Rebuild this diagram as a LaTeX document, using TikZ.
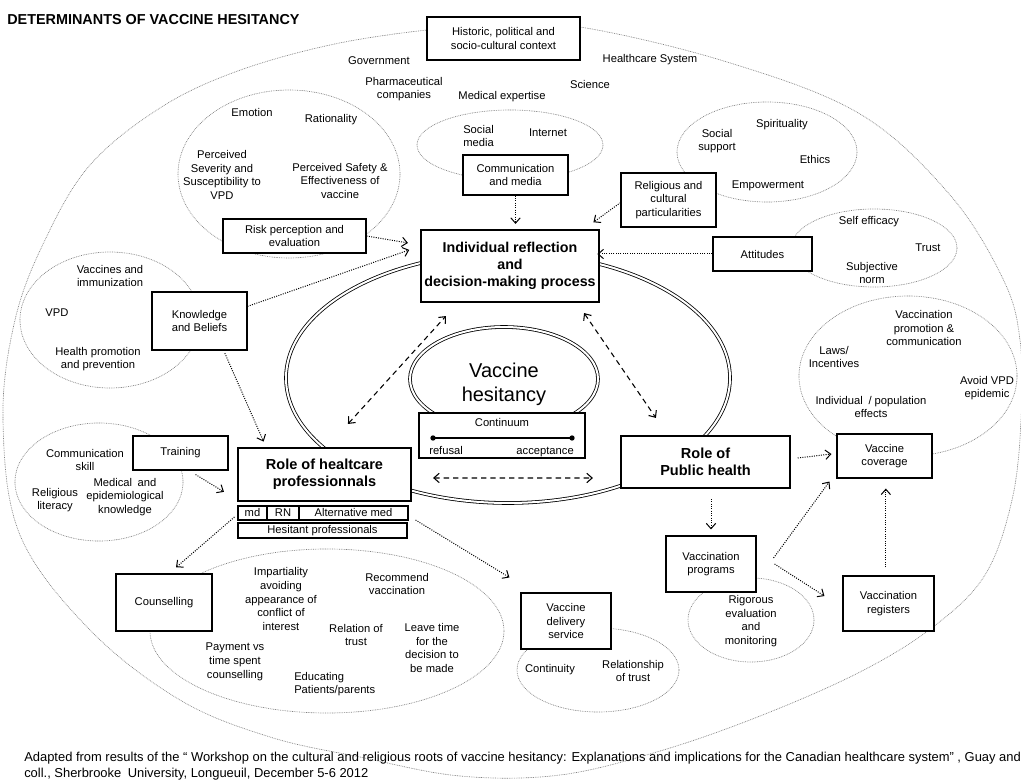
\documentclass[tikz,border=0pt]{standalone}
\usepackage{fontspec}
\setmainfont{Liberation Sans}
\usetikzlibrary{arrows.meta}
\begin{document}
\begin{tikzpicture}[x=0.75pt,y=-0.75pt,
  lab/.style={font=\fontsize{8.4}{10.3}\selectfont, align=center, inner sep=0pt},
  tbox/.style={draw, fill=white, line width=0.8pt, align=center, inner sep=0pt, font=\fontsize{8.4}{10.3}\selectfont},
  kbox/.style={draw, fill=white, line width=1.6pt, align=center, inner sep=0pt, font=\bfseries\fontsize{10.7}{13}\selectfont},
  rowbox/.style={tbox, text height=6.2pt, text depth=1.6pt},
  sz/.style 2 args={minimum width=#1*0.75pt, minimum height=#2*0.75pt},
  ell/.style={draw=gray, line width=0.5pt, dash pattern=on 0.6pt off 0.7pt},
  dotarr/.style={densely dotted, line width=0.75pt, -{Straight Barb[length=4pt,width=7pt]}},
  dasharr/.style={dash pattern=on 4pt off 3pt, line width=0.8pt, {Straight Barb[length=4pt,width=7pt]}-{Straight Barb[length=4pt,width=7pt]}},
  dbl/.style={double, double distance=1.5pt, line width=0.6pt}
]
\useasboundingbox (0,0) rectangle (1021,780);
\fill[white] (0,0) rectangle (1021,780);

% outer context curve
\draw[ell] plot[smooth cycle, tension=0.6] coordinates {
 (500,26) (580,27) (727,62) (860,114) (950,195) (1003,279) (1020,340) (1021,420)
 (1012,500) (985,575) (933,627) (860,672) (760,716) (660,751) (560,775) (460,776)
 (360,757) (270,737) (180,700) (90,630) (20,535) (3,420) (15,320) (45,240)
 (90,165) (160,108) (235,72) (330,45) (427,30)};

% dotted ellipses
\draw[ell] (289,174) ellipse [x radius=111, y radius=84];
\draw[ell] (510,145) ellipse [x radius=93, y radius=35];
\draw[ell] (767,152) ellipse [x radius=90, y radius=50];
\draw[ell] (874,248) ellipse [x radius=83, y radius=39];
\draw[ell] (110,320) ellipse [x radius=90, y radius=68];
\draw[ell] (99,482) ellipse [x radius=84, y radius=59];
\draw[ell] (327,631) ellipse [x radius=177, y radius=82];
\draw[ell] (598,670) ellipse [x radius=81, y radius=42];
\draw[ell] (751,620) ellipse [x radius=63, y radius=42];
\draw[ell] (908,376) ellipse [x radius=109, y radius=80];

% central double ellipses
\draw[dbl] (508,378) ellipse [x radius=222, y radius=125];
\draw[dbl] (504,379) ellipse [x radius=94, y radius=52];

% title
\node[anchor=base west, inner sep=0pt, font=\bfseries\fontsize{10.8}{13}\selectfont] (title) at (7,25) {DETERMINANTS OF VACCINE HESITANCY};

% boxes
\node[tbox, sz={153}{43}] (hist) at (503.5,38.5) {Historic, political and\\socio-cultural context};
\node[tbox, sz={143}{34}] (risk) at (294.5,236) {Risk perception and\\evaluation};
\node[tbox, sz={105}{40}] (comm) at (515.5,175) {Communication\\and media};
\node[tbox, sz={95}{54}] (rel) at (668.5,200) {Religious and\\cultural\\particularities};
\node[tbox, sz={99}{34}] (att) at (762.5,254) {Attitudes};
\node[kbox, sz={178}{72}] (ind) at (510,266) {Individual reflection\\and\\decision-making process};
\node[tbox, sz={95}{58}] (know) at (199.5,321) {Knowledge\\and Beliefs};
\node[tbox, sz={95}{34}] (train) at (180.5,453) {Training};
\node[kbox, sz={173}{53}, font=\bfseries\fontsize{10.9}{12.8}\selectfont] (hcp) at (324.5,474.5) {Role of healtcare\\professionnals};
\node[rowbox, sz={29}{14}] (md) at (252.5,513) {md};
\node[rowbox, sz={32}{14}] (rn) at (283,513) {RN};
\node[rowbox, sz={109}{14}] (alt) at (353.5,513) {Alternative med};
\node[rowbox, sz={169}{15}] (hes) at (322.5,530.5) {Hesitant professionals};
\node[tbox, sz={96}{57}] (couns) at (164,602.5) {Counselling};
\node[tbox, sz={90}{56}] (deliv) at (566,621) {Vaccine\\delivery\\service};
\node[kbox, sz={169}{52}, font=\bfseries\fontsize{10.9}{12.8}\selectfont] (ph) at (705.5,462) {Role of\\Public health};
\node[tbox, sz={90}{56}] (prog) at (711,564) {Vaccination\\programs};
\node[tbox, sz={91}{55}] (reg) at (888.5,603.5) {Vaccination\\registers};
\node[tbox, sz={95}{44}] (cov) at (884.5,456) {Vaccine\\coverage};
\node[tbox, sz={166}{45}] (cont) at (502,435.5) {};

% continuum content
\node[lab] (contl) at (502,422) {Continuum};
\coordinate (cl) at (433,438);
\coordinate (cr) at (572,438);
\draw[line width=1pt] (cl) -- (cr);
\fill (cl) circle[radius=2pt];
\fill (cr) circle[radius=2pt];
\node[lab, anchor=base west] (refl) at (429,455) {refusal};
\node[lab, anchor=base east] (accl) at (574,455) {acceptance};

% hesitancy
\node[lab, font=\fontsize{15}{18}\selectfont] (vh) at (504,384) {Vaccine\\hesitancy};

% context labels
\node[lab] (gov) at (379,61) {Government};
\node[lab] (pharm) at (404,89) {Pharmaceutical\\companies};
\node[lab] (medx) at (502,97) {Medical expertise};
\node[lab] (sci) at (590,85) {Science};
\node[lab] (hcs) at (650,60) {Healthcare System};

% risk ellipse
\node[lab] (emo) at (252,113) {Emotion};
\node[lab] (rat) at (331,120) {Rationality};
\node[lab] (sev) at (222,175) {Perceived\\Severity and\\Susceptibility to\\VPD};
\node[lab] (saf) at (340,181) {Perceived Safety \&\\Effectiveness of\\vaccine};

% communication
\node[lab, align=left, anchor=west] (soc) at (463,136) {Social\\media};
\node[lab] (inet) at (548,133) {Internet};

% religious
\node[lab] (ssup) at (717,141) {Social\\support};
\node[lab] (spir) at (782,125) {Spirituality};
\node[lab] (eth) at (815,160) {Ethics};
\node[lab] (emp) at (768,186) {Empowerment};

% attitudes
\node[lab] (seff) at (869,222) {Self efficacy};
\node[lab] (trust) at (928,248) {Trust};
\node[lab] (subj) at (872,273) {Subjective\\norm};

% knowledge
\node[lab] (vacimm) at (110,276) {Vaccines and\\immunization};
\node[lab] (vpd) at (57,313) {VPD};
\node[lab] (hpp) at (98,359) {Health promotion\\and prevention};

% training
\node[lab] (cskill) at (85,460) {Communication\\skill};
\node[lab] (rlit) at (55,500) {Religious\\literacy};
\node[lab] (medk) at (125,497) {Medical\enspace and\\epidemiological\\knowledge};

% counselling
\node[lab] (imp) at (281,599) {Impartiality\\avoiding\\appearance of\\conflict of\\interest};
\node[lab] (recv) at (397,584) {Recommend\\vaccination};
\node[lab] (relt) at (356,635) {Relation of\\trust};
\node[lab] (leave) at (432,648) {Leave time\\for the\\decision to\\be made};
\node[lab] (pay) at (235,662) {Payment vs\\time spent\\counselling};
\node[lab, align=left, anchor=west] (edu) at (294,684) {Educating\\Patients/parents};

% delivery
\node[lab] (cont2) at (550,670) {Continuity};
\node[lab] (rtrust) at (633,671) {Relationship\\of trust};

% programs
\node[lab] (rig) at (751,621) {Rigorous\\evaluation\\and\\monitoring};

% coverage
\node[lab] (vpc) at (924,328) {Vaccination\\promotion \&\\communication};
\node[lab] (laws) at (834,357) {Laws/\\Incentives};
\node[lab] (avoid) at (987,388) {Avoid VPD\\epidemic};
\node[lab] (ipe) at (871,407) {Individual\enspace/ population\\effects};

% dotted arrows
\draw[dotarr, shorten >=3.75pt] (comm.south) -- (comm.south |- ind.north);
\draw[dotarr] ([yshift=-2pt]rel.west) -- ([xshift=-5pt,yshift=5pt]ind.north east);
\draw[dotarr, shorten >=-2pt] (att.west) -- (att.west -| ind.east);
\draw[dotarr] (risk.east) -- ([xshift=-9pt,yshift=-10.5pt]ind.north west);
\draw[dotarr] ([yshift=11pt]know.east) -- ([xshift=-8pt,yshift=-15.75pt]ind.north west);
\draw[dotarr] ([xshift=19pt,yshift=-2pt]know.south) -- ([xshift=20pt,yshift=4pt]hcp.north west);
\draw[dotarr] ([xshift=-24.75pt,yshift=-3pt]train.south east) -- ([xshift=-9.75pt,yshift=-13pt]hcp.west);
\draw[dotarr] ([xshift=-2.25pt,yshift=-3pt]md.west) -- ([xshift=9pt,yshift=4.5pt]couns.north);
\draw[dotarr] ([xshift=5.25pt,yshift=-5.25pt]alt.east) -- ([xshift=-8.25pt,yshift=11.25pt]deliv.north west);
\draw[dotarr] ([yshift=-7.5pt]prog.north |- ph.south) -- ([yshift=4.5pt]prog.north);
\draw[dotarr] ([xshift=5pt,yshift=3pt]ph.east) -- ([xshift=-3.75pt,yshift=1.5pt]cov.west);
\draw[dotarr] ([xshift=12.75pt,yshift=4.5pt]prog.east) -- ([xshift=-5.25pt,yshift=-2.25pt]cov.south west);
\draw[dotarr] ([xshift=13.5pt]prog.east) -- ([xshift=-13.5pt,yshift=5.6pt]reg.west);
\draw[dotarr] ([xshift=-2pt,yshift=6pt]reg.north) -- ([xshift=1pt,yshift=-7.5pt]cov.south);

% dashed double arrows
\draw[dasharr] ([xshift=17.6pt,yshift=17.25pt]hcp.north) -- ([xshift=19.5pt,yshift=-9.75pt]ind.south west);
\draw[dasharr] ([xshift=-12pt,yshift=-7.5pt]ind.south east) -- ([xshift=27pt,yshift=12.75pt]ph.north west);
\draw[dasharr] ([xshift=15.75pt,yshift=-2.6pt]hcp.east) -- ([xshift=-20.25pt,yshift=-12pt]ph.west);

% footer
\node[anchor=base west, inner sep=0pt, font=\fontsize{9.7}{12}\selectfont] (foot1) at (24,761) {Adapted from results of the “ Workshop on the cultural and religious roots of vaccine hesitancy: Explanations and implications for the Canadian healthcare system” , Guay and};
\node[anchor=base west, inner sep=0pt, font=\fontsize{9.7}{12}\selectfont] (foot2) at (24,777) {coll., Sherbrooke\enspace University, Longueuil, December 5-6 2012};
\end{tikzpicture}
\end{document}
